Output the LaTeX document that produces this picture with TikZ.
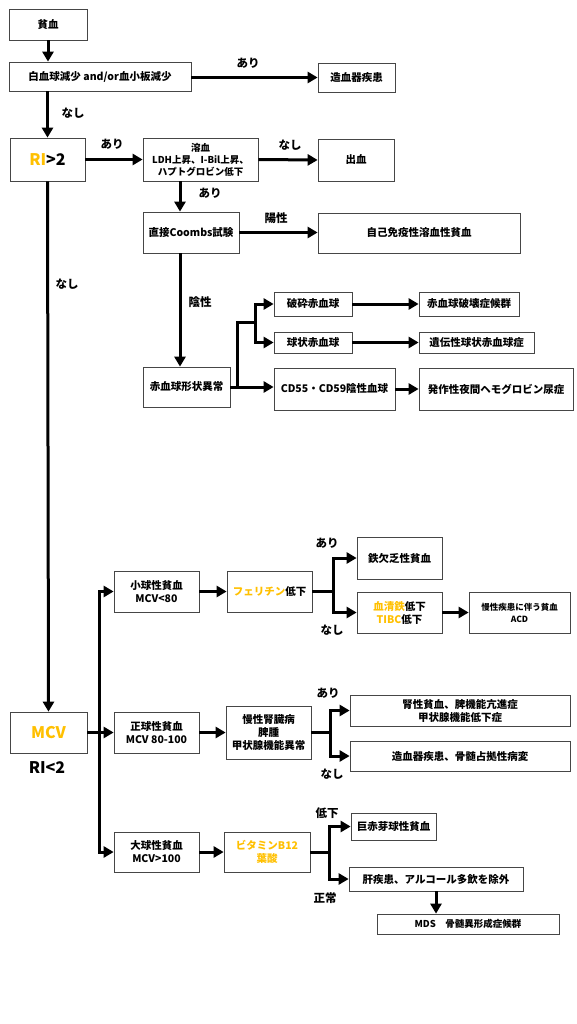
\documentclass[tikz,border=0pt]{standalone}
\usepackage{fontspec}
\setmainfont{Noto Sans CJK JP}
\usetikzlibrary{arrows.meta}
\definecolor{gold}{RGB}{255,192,0}
\definecolor{boxline}{RGB}{70,70,70}
\tikzset{
  box/.style={draw=boxline, line width=0.7pt, fill=white, align=center, inner sep=1pt, font=\fontsize{10.5}{13}\selectfont\bfseries},
  small/.style={font=\fontsize{9.5}{12}\selectfont\bfseries},
  arr/.style={line width=3pt, -{Triangle[length=10pt,width=11pt]}},
  ln/.style={line width=3pt},
  lbl/.style={font=\fontsize{11.5}{13}\selectfont\bfseries, inner sep=0pt},
  big/.style={font=\fontsize{16}{18}\selectfont\bfseries},
}
\begin{document}
\begin{tikzpicture}[x=1pt,y=-1pt]
\useasboundingbox[fill=white] (0,0) rectangle (576,1024);
% top
\node[box, minimum width=78pt, minimum height=31pt] (anemia) at (48,24.5) {貧血};
\node[box, minimum width=182pt, minimum height=29pt] (wbc) at (100,76.5) {白血球減少 and/or血小板減少};
\node[box, minimum width=77pt, minimum height=29pt] (hem1) at (356.5,77.5) {造血器疾患};
\node[box, big, minimum width=75pt, minimum height=43pt] (ri) at (47.5,159.5) {\textcolor{gold}{RI}>2};
\node[box, small, minimum width=115pt, minimum height=43pt] (hemo) at (200.5,159.5) {溶血\\LDH上昇、I-Bil上昇、\\ハプトグロビン低下};
\node[box, minimum width=76pt, minimum height=42pt] (bleed) at (356,160) {出血};
\node[box, minimum width=96pt, minimum height=41pt] (coombs) at (191,232.5) {直接Coombs試験};
\node[box, minimum width=202pt, minimum height=40pt] (aiha) at (419,233) {自己免疫性溶血性貧血};
\node[box, minimum width=87pt, minimum height=40pt] (shape) at (186.5,387) {赤血球形状異常};
\node[box, minimum width=78pt, minimum height=24pt] (frag) at (313,304) {破砕赤血球};
\node[box, minimum width=100pt, minimum height=24pt] (tma) at (469,304) {赤血球破壊症候群};
\node[box, minimum width=78pt, minimum height=21pt] (sph) at (313,342.5) {球状赤血球};
\node[box, minimum width=115pt, minimum height=21pt] (hs) at (476.5,342.5) {遺伝性球状赤血球症};
\node[box, minimum width=121pt, minimum height=42pt] (cd55) at (334.5,389) {CD55・CD59陰性血球};
\node[box, minimum width=154pt, minimum height=42pt] (pnh) at (496,389) {発作性夜間ヘモグロビン尿症};
% connectors top
\draw[arr] (anemia.south) -- (anemia.south |- wbc.north);
\draw[arr] (wbc.east |- hem1.west) -- (hem1.west);
\draw[arr] (ri.north |- wbc.south) -- (ri.north);
\draw[arr] (ri.east) -- (hemo.west);
\draw[arr] (hemo.east) -- (bleed.west);
\draw[arr] ([xshift=-20.5pt]hemo.south) -- ([xshift=-11pt]coombs.north);
\draw[arr] (coombs.east) -- (coombs.east -| aiha.west);
\draw[arr] ([xshift=-11pt]coombs.south) -- ([xshift=-6.5pt]shape.north);
\coordinate (j1) at (237,387);
\coordinate (j2) at (255,322);
\draw[arr] (shape.east) -- (shape.east -| cd55.west);
\draw[ln] (j1) |- (j2);
\draw[arr] (j2) |- (frag.west);
\draw[arr] (j2) |- (sph.west);
\draw[arr] (frag.east) -- (tma.west);
\draw[arr] (sph.east) -- (hs.west);
\draw[arr] (cd55.east) -- (pnh.west);
% labels top
\node[lbl] (l1) at (248,63) {あり};
\node[lbl] (l2) at (73,113) {なし};
\node[lbl] (l3) at (112,144) {あり};
\node[lbl] (l4) at (290,145) {なし};
\node[lbl] (l5) at (210,193) {あり};
\node[lbl] (l6) at (276,218) {陽性};
\node[lbl] (l7) at (200,302) {陰性};
\node[lbl] (l8) at (67,284) {なし};
% lower boxes
\node[box, minimum width=77pt, minimum height=41pt, font=\fontsize{16}{18}\selectfont\bfseries] (mcv) at (48.5,732.5) {\textcolor{gold}{MCV}};
\node[box, minimum width=85pt, minimum height=41pt] (smallb) at (156.5,591.5) {小球性貧血\\MCV<80};
\node[box, minimum width=85pt, minimum height=41pt] (fer) at (269.5,591.5) {\textcolor{gold}{フェリチン}低下};
\node[box, minimum width=85pt, minimum height=42pt] (ida) at (399.5,558) {鉄欠乏性貧血};
\node[box, minimum width=85pt, minimum height=41pt] (fe) at (399.5,612.5) {\textcolor{gold}{血清鉄}低下\\\textcolor{gold}{TIBC}低下};
\node[box, minimum width=101pt, minimum height=41pt, font=\fontsize{8.5}{12}\selectfont\bfseries] (acd) at (519.5,612.5) {慢性疾患に伴う貧血\\ACD};
\node[box, minimum width=85pt, minimum height=41pt] (normo) at (156.5,732.5) {正球性貧血\\MCV 80-100};
\node[box, minimum width=85pt, minimum height=53pt] (ckd) at (268.5,732.5) {慢性腎臓病\\脾腫\\甲状腺機能異常};
\node[box, minimum width=220pt, minimum height=31pt] (renal) at (460,710.5) {腎性貧血、脾機能亢進症\\甲状腺機能低下症};
\node[box, minimum width=220pt, minimum height=30pt] (hem2) at (460,756) {造血器疾患、骨髄占拠性病変};
\node[box, minimum width=85pt, minimum height=40pt] (macro) at (156.5,852) {大球性貧血\\MCV>100};
\node[box, minimum width=86pt, minimum height=40pt] (vit) at (267,852) {\textcolor{gold}{ビタミンB12}\\\textcolor{gold}{葉酸}};
\node[box, minimum width=85pt, minimum height=27pt] (mega) at (393.5,826.5) {巨赤芽球性貧血};
\node[box, minimum width=174pt, minimum height=24pt] (liver) at (436,879) {肝疾患、アルコール多飲を除外};
\node[box, minimum width=182pt, minimum height=20pt, font=\fontsize{9.5}{11}\selectfont\bfseries] (mds) at (468,924) {MDS\quad 骨髄異形成症候群};
\node[big, inner sep=0pt] (ri2) at (47,768) {RI<2};
% lower connectors
\draw[arr] (ri.south) -- (mcv.north);
\coordinate (tr) at (99,732.5);
\draw[arr] (mcv.east) -- (normo.west);
\draw[arr] (tr) |- (smallb.west);
\draw[arr] (tr) |- (macro.west);
\draw[arr] (smallb.east) -- (fer.west);
\draw[arr] (normo.east) -- (ckd.west);
\draw[arr] (macro.east) -- (vit.west);
\draw[ln] (fer.east) -- ++(21,0) coordinate (b1);
\draw[arr] (b1) |- (ida.west);
\draw[arr] (b1) |- (fe.west);
\draw[arr] (fe.east) -- (acd.west);
\draw[ln] (ckd.east) -- ++(19,0) coordinate (b2);
\draw[arr] (b2) |- (renal.west);
\draw[arr] (b2) |- (hem2.west);
\draw[ln] (vit.east) -- ++(19,0) coordinate (b3);
\draw[arr] (b3) |- (mega.west);
\draw[arr] (b3) |- (liver.west);
\draw[arr] (liver.south) -- (liver.south |- mds.north);
% lower labels
\node[lbl] (m1) at (327,543) {あり};
\node[lbl] (m2) at (332,630) {なし};
\node[lbl] (m3) at (328,693) {あり};
\node[lbl] (m4) at (332,774) {なし};
\node[lbl] (m5) at (327,813) {低下};
\node[lbl] (m6) at (325,898) {正常};
\end{tikzpicture}
\end{document}
